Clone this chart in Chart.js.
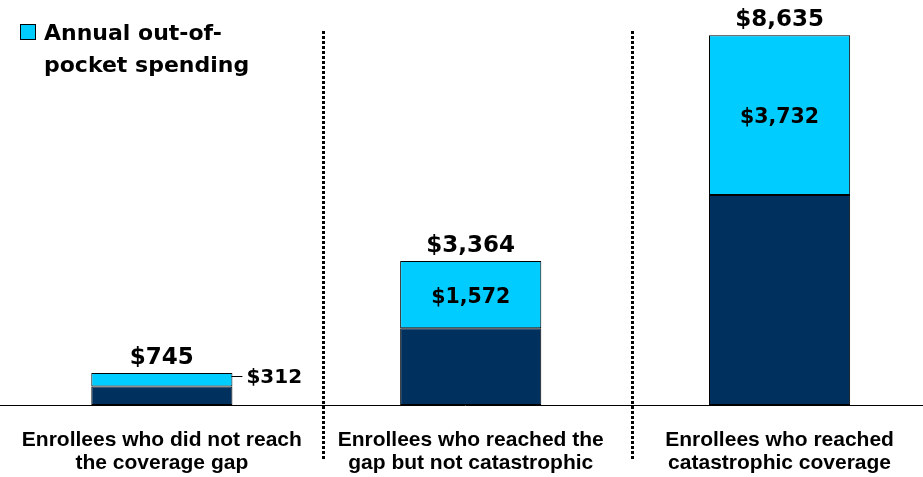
<!DOCTYPE html>
<html>
<head>
<meta charset="utf-8">
<script src="https://cdn.jsdelivr.net/npm/chart.js@4/dist/chart.umd.min.js"></script>
<style>
  html, body { margin: 0; padding: 0; background: #fff; overflow: hidden; }
  #wrap { position: relative; width: 937px; height: 477px; margin-left: -3px; }
</style>
</head>
<body>
<div id="wrap">
  <canvas id="c" width="937" height="477"></canvas>
</div>
<script>
const categories = [
  ["Enrollees who did not reach", "the coverage gap"],
  ["Enrollees who reached the", "gap but not catastrophic"],
  ["Enrollees who reached", "catastrophic coverage"]
];
const totalSpending = [745, 3364, 8635];
const outOfPocket = [312, 1572, 3732];
const otherSpending = totalSpending.map((t, i) => t - outOfPocket[i]);
const legendLines = ["Annual out-of-", "pocket spending"];

const DARK = "#00305E";
const LIGHT = "#00CCFF";
const NUMFONT = '"DejaVu Sans", Verdana, sans-serif';
const SHIFT = 3; // canvas is offset left by this much on the page

const fmt = v => "$" + v.toLocaleString("en-US");

const labelPlugin = {
  id: "labels",
  afterDatasetsDraw(chart) {
    const ctx = chart.ctx;
    const top = chart.getDatasetMeta(1).data;
    const area = chart.chartArea;
    ctx.save();
    ctx.fillStyle = "#000";
    ctx.textAlign = "center";
    ctx.textBaseline = "alphabetic";
    top.forEach((bar, i) => {
      ctx.font = 'bold 23px ' + NUMFONT;
      ctx.fillText(fmt(totalSpending[i]), bar.x, bar.y - 9);
      const h = bar.base - bar.y;
      if (h > 40) {
        ctx.font = 'bold 20.5px ' + NUMFONT;
        ctx.fillText(fmt(outOfPocket[i]), bar.x, (bar.y + bar.base) / 2 + 8);
      } else {
        ctx.font = 'bold 20px ' + NUMFONT;
        const right = bar.x + bar.width / 2;
        const ly = Math.round(bar.y + 3) + 0.5;
        ctx.strokeStyle = "#000";
        ctx.lineWidth = 1;
        ctx.beginPath();
        ctx.moveTo(right - 1, ly);
        ctx.lineTo(right + 10, ly);
        ctx.stroke();
        ctx.textAlign = "left";
        ctx.fillText(fmt(outOfPocket[i]), right + 14, bar.y + 10);
        ctx.textAlign = "center";
      }
    });
    // dotted separators between categories
    const xs = chart.scales.x;
    for (let i = 0; i < categories.length - 1; i++) {
      const x = Math.round((xs.getPixelForValue(i) + xs.getPixelForValue(i + 1)) / 2 + 5.5);
      for (let y = 31; y < 460; y += 5) {
        ctx.fillRect(x, y, 3, 3);
      }
    }
    // baseline
    ctx.strokeStyle = "#000";
    ctx.lineWidth = 1;
    ctx.beginPath();
    ctx.moveTo(0, Math.round(area.bottom) + 0.5);
    ctx.lineTo(chart.width, Math.round(area.bottom) + 0.5);
    ctx.stroke();
    // legend
    ctx.fillStyle = LIGHT;
    ctx.fillRect(20 + SHIFT, 24, 16, 16);
    ctx.strokeStyle = "#000";
    ctx.strokeRect(20.5 + SHIFT, 24.5, 15, 15);
    ctx.fillStyle = "#000";
    ctx.textAlign = "left";
    ctx.font = 'bold 22px ' + NUMFONT;
    legendLines.forEach((t, k) => ctx.fillText(t, 44 + SHIFT, 40 + k * 32));
    ctx.restore();
  }
};

new Chart(document.getElementById("c"), {
  type: "bar",
  data: {
    labels: categories,
    datasets: [
      { label: "Other spending", data: otherSpending, backgroundColor: DARK, borderColor: "#000", borderWidth: 1, borderSkipped: false },
      { label: "Annual out-of-pocket spending", data: outOfPocket, backgroundColor: LIGHT, borderColor: "#000", borderWidth: 1, borderSkipped: false }
    ]
  },
  options: {
    responsive: false,
    animation: false,
    layout: { padding: { left: 5, right: 0, top: 0, bottom: 0 } },
    plugins: { legend: { display: false }, tooltip: { enabled: false } },
    scales: {
      x: {
        stacked: true,
        grid: { display: false, drawTicks: false },
        border: { display: false },
        afterFit(scale) { scale.height = 72; },
        ticks: {
          color: "#000",
          padding: 24,
          font: { family: '"Liberation Sans", Arial, sans-serif', size: 21, weight: "bold", lineHeight: 1.07 },
          maxRotation: 0,
          autoSkip: false
        }
      },
      y: {
        stacked: true,
        display: false,
        min: 0,
        max: 9460
      }
    },
    datasets: { bar: { categoryPercentage: 1, barPercentage: 0.457 } }
  },
  plugins: [labelPlugin]
});
</script>
</body>
</html>
